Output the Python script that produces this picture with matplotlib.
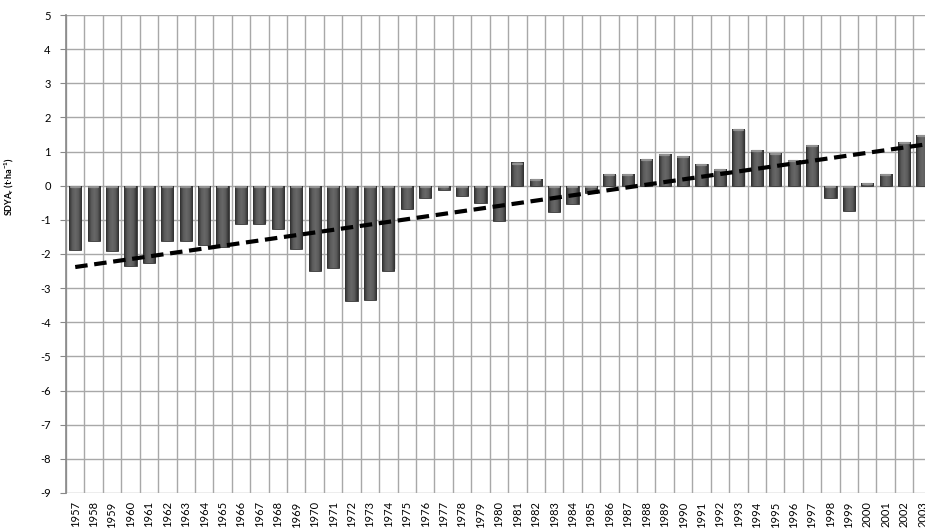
import numpy as np
import matplotlib
matplotlib.use('Agg')
import matplotlib.pyplot as plt
from matplotlib.colors import LinearSegmentedColormap

plt.rcParams['font.family'] = ['Lato', 'DejaVu Sans']

# yil ve standart sapma degerleri
years = list(range(1957, 2004))
sdya = [-1.88, -1.61, -1.90, -2.34, -2.25, -1.61, -1.61, -1.73, -1.80, -1.13,
        -1.13, -1.26, -1.84, -2.51, -2.40, -3.39, -3.34, -2.49, -0.69, -0.37,
        -0.13, -0.30, -0.52, -1.02, 0.68, 0.19, -0.78, -0.55, -0.22, 0.35,
        0.35, 0.78, 0.93, 0.87, 0.63, 0.49, 1.66, 1.04, 0.96, 0.74,
        1.19, -0.37, -0.73, 0.07, 0.34, 1.28, 1.49]
y_ticks = list(range(-9, 6))

x = np.arange(len(years))
vals = np.array(sdya)

fig = plt.figure(figsize=(9.25, 5.31), dpi=100)
ax = fig.add_axes([66 / 925, 38 / 531, 47 * 18.42 / 925, 478 / 531])

ax.set_xlim(-0.5, len(years) - 0.5)
ax.set_ylim(-9, 5)

# izgara cizgileri
grid_c = '#a8a8a8'
for b in np.arange(-0.5, len(years) + 0.5, 1.0):
    ax.axvline(b, color=grid_c, lw=1.0, zorder=0)
for t in y_ticks:
    ax.axhline(t, color=grid_c, lw=1.0, zorder=0)

# silindir gorunumlu cubuklar
cmap = LinearSegmentedColormap.from_list('bar', ['#2e2e2e', '#5a5a5a', '#686868', '#5a5a5a', '#2e2e2e'])
grad = np.linspace(0, 1, 64).reshape(1, -1)
bars = ax.bar(x, vals, width=0.66, color='#4d4d4d', edgecolor='#3a3a3a', lw=0.6, zorder=2)
for xi, v, p in zip(x, vals, bars):
    # hafif golge
    ax.bar(xi + 0.06, v - 0.04 * np.sign(v), width=0.66, color='#000000', alpha=0.12, zorder=1.5)
    lo, hi = min(0, v), max(0, v)
    im = ax.imshow(grad, cmap=cmap, aspect='auto', extent=(xi - 0.33, xi + 0.33, lo, hi), zorder=2.1)
    im.set_clip_path(p)
    # ust kapak
    cap_y = 0 if v < 0 else v
    ax.plot([xi - 0.25, xi + 0.25], [cap_y - 0.03, cap_y - 0.03], color='#a0a0a0', lw=1.6,
            alpha=0.8, zorder=2.2, solid_capstyle='round')

ax.set_xlim(-0.5, len(years) - 0.5)
ax.set_ylim(-9, 5)

# dogrusal egilim cizgisi
k, b0 = np.polyfit(x, vals, 1)
xt = np.array([0, len(years) - 0.5])
ax.plot(xt, k * xt + b0, color='black', lw=3, ls=(0, (3, 1.6)), zorder=3)

ax.set_yticks(y_ticks)
ax.set_yticklabels([str(t) for t in y_ticks], fontsize=8)
ax.set_xticks(x)
ax.set_xticklabels([str(y) for y in years], rotation=90, fontsize=8)
ax.tick_params(axis='y', length=4, color='#888888', pad=7)
ax.tick_params(axis='x', length=0, pad=6)

for s in ['top', 'right', 'bottom']:
    ax.spines[s].set_visible(False)
ax.spines['left'].set_color('#888888')
ax.spines['left'].set_linewidth(1.2)

ax.set_ylabel(r'SDYA$_\mathregular{r}$ (t$\cdot$ha$^\mathregular{-1}$)', fontsize=6.5,
              fontweight='bold')
ax.yaxis.set_label_coords(-0.058, 0.64)

fig.savefig('out.png', dpi=100)
